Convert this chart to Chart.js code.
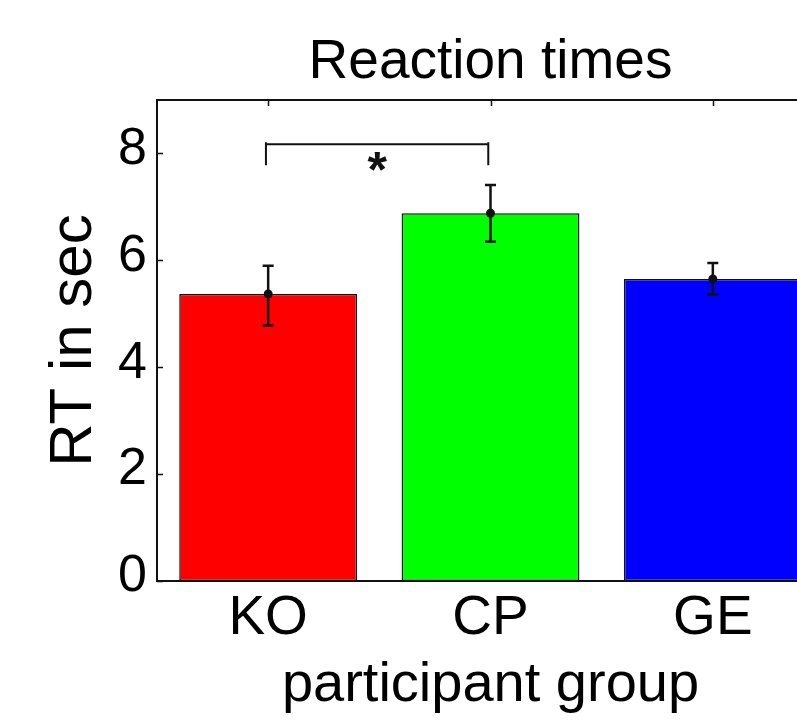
<!DOCTYPE html>
<html>
<head>
<meta charset="utf-8">
<script src="https://cdn.jsdelivr.net/npm/chart.js@4"></script>
<style>
  html, body { margin: 0; padding: 0; background: #ffffff; overflow: hidden; width: 797px; height: 726px; }
  #wrap { width: 993px; height: 726px; }
</style>
</head>
<body>
<div id="wrap"><canvas id="c" width="993" height="726"></canvas></div>
<script>
// ---- data ----
const categories = ['KO', 'CP', 'GE'];
const meanRT = [5.37, 6.88, 5.65];
const errLower = [4.78, 6.35, 5.36];
const errUpper = [5.90, 7.41, 5.95];
const yTickValues = [0, 2, 4, 6, 8];
const yRange = [0, 9];
const sigBracketX = [-0.01, 0.99];   // x positions (category index units)
const sigBracketY = [8.17, 7.78];    // bar level, end level
const sigStarPos = [0.49, 7.92];     // x (index units), y
const sigLabel = '*';

// ---- styles ----
const barColors = ['#ff0000', '#00ff00', '#0000ff'];
const FONT = '"Liberation Sans", Arial, Helvetica, sans-serif';
const INK = '#111111';

const matlabPlugin = {
  id: 'matlabDecor',
  afterDatasetsDraw(chart) {
    const ctx = chart.ctx;
    const xs = chart.scales.x, ys = chart.scales.y;
    const area = chart.chartArea;
    ctx.save();
    // error bars
    ctx.strokeStyle = INK;
    ctx.fillStyle = INK;
    ctx.lineWidth = 2.5;
    const capHalf = 5.5;
    for (let i = 0; i < meanRT.length; i++) {
      const px = xs.getPixelForValue(i);
      const yl = ys.getPixelForValue(errLower[i]);
      const yu = ys.getPixelForValue(errUpper[i]);
      const ym = ys.getPixelForValue(meanRT[i]);
      ctx.beginPath();
      ctx.moveTo(px, yl); ctx.lineTo(px, yu);
      ctx.moveTo(px - capHalf, yl); ctx.lineTo(px + capHalf, yl);
      ctx.moveTo(px - capHalf, yu); ctx.lineTo(px + capHalf, yu);
      ctx.stroke();
      ctx.beginPath();
      ctx.arc(px, ym, 4.5, 0, Math.PI * 2);
      ctx.fill();
    }
    // significance bracket
    const bx0 = xs.getPixelForValue(sigBracketX[0]);
    const bx1 = xs.getPixelForValue(sigBracketX[1]);
    const by = ys.getPixelForValue(sigBracketY[0]);
    const byEnd = ys.getPixelForValue(sigBracketY[1]);
    ctx.lineWidth = 2;
    ctx.beginPath();
    ctx.moveTo(bx0, byEnd); ctx.lineTo(bx0, by - 2);
    ctx.moveTo(bx0, by); ctx.lineTo(bx1, by);
    ctx.moveTo(bx1, by - 2); ctx.lineTo(bx1, byEnd);
    ctx.stroke();
    // star
    const sx = xs.getPixelForValue(sigStarPos[0]);
    const sy = ys.getPixelForValue(sigStarPos[1]);
    const fs = 50;
    ctx.font = 'bold ' + fs + 'px ' + FONT;
    ctx.textAlign = 'center';
    ctx.textBaseline = 'alphabetic';
    ctx.fillText(sigLabel, sx, sy + 0.58 * fs);
    // axes frame
    ctx.lineWidth = 2;
    ctx.strokeStyle = INK;
    ctx.beginPath();
    ctx.rect(area.left, area.top, area.right - area.left, area.bottom - area.top);
    ctx.stroke();
    // inward ticks: left & right (y), top (x)
    ctx.lineWidth = 1.5;
    ctx.beginPath();
    ys.ticks.forEach((t, i) => {
      const py = Math.round(ys.getPixelForTick(i)) + 0.5;
      ctx.moveTo(area.left, py); ctx.lineTo(area.left + 6, py);
      ctx.moveTo(area.right, py); ctx.lineTo(area.right - 6, py);
    });
    xs.ticks.forEach((t, i) => {
      const px = Math.round(xs.getPixelForTick(i)) + 0.5;
      ctx.moveTo(px, area.top); ctx.lineTo(px, area.top + 6);
    });
    ctx.stroke();
    ctx.restore();
  }
};

new Chart(document.getElementById('c'), {
  type: 'bar',
  data: {
    labels: categories,
    datasets: [{
      data: meanRT,
      backgroundColor: barColors,
      borderColor: '#111111',
      borderWidth: 1.5,
      borderSkipped: false,
      categoryPercentage: 1.0,
      barPercentage: 0.8
    }]
  },
  options: {
    responsive: false,
    animation: false,
    devicePixelRatio: 1,
    layout: { padding: { left: 0, right: 169, top: 0, bottom: 0 } },
    plugins: {
      legend: { display: false },
      tooltip: { enabled: false },
      title: {
        display: true,
        fullSize: false,
        text: 'Reaction times',
        color: '#000000',
        font: { family: FONT, size: 55, weight: 'normal', lineHeight: 1 },
        padding: { top: 35.5, bottom: 9.5 }
      }
    },
    scales: {
      x: {
        type: 'category',
        offset: true,
        grid: { display: false, drawTicks: false },
        border: { display: false },
        ticks: {
          color: '#000000',
          font: { family: FONT, size: 55, lineHeight: 1 },
          padding: 10,
          maxRotation: 0,
          autoSkip: false
        },
        title: {
          display: true,
          text: 'participant group',
          color: '#000000',
          font: { family: FONT, size: 56, lineHeight: 1 },
          padding: { top: 0, bottom: 12 }
        },
        afterFit(scale) { scale.height = 145; }
      },
      y: {
        min: yRange[0],
        max: yRange[1],
        grid: { display: false, drawTicks: false },
        border: { display: false },
        afterBuildTicks(scale) { scale.ticks = yTickValues.map(v => ({ value: v })); },
        ticks: {
          color: '#000000',
          font: { family: FONT, size: 52, lineHeight: 1 },
          padding: 10,
          labelOffset: -4
        },
        title: {
          display: true,
          text: 'RT in sec',
          color: '#000000',
          font: { family: FONT, size: 60, lineHeight: 1 },
          padding: { top: 44, bottom: 0 }
        },
        afterFit(scale) { scale.width = 157; }
      }
    }
  },
  plugins: [matlabPlugin]
});
</script>
</body>
</html>
